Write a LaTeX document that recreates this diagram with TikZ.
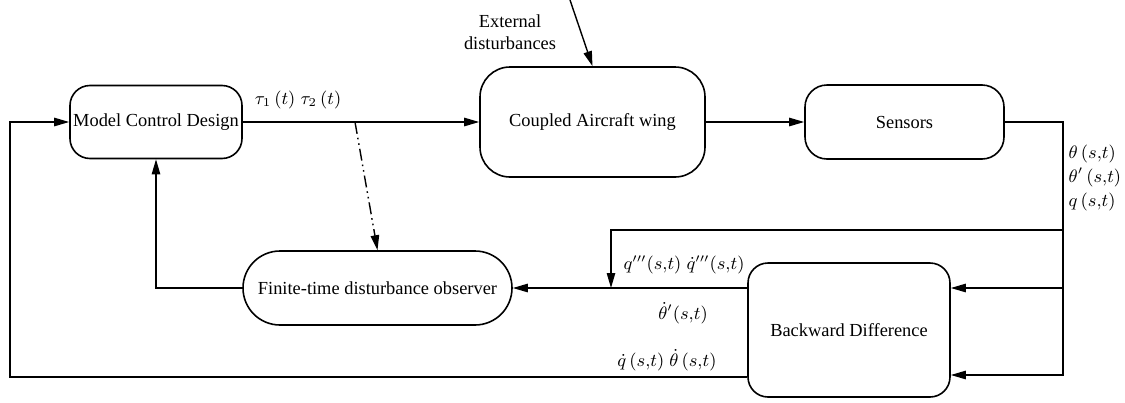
\documentclass[tikz,border=0pt]{standalone}
\usepackage{fontspec}
\setmainfont{Liberation Serif}
\usetikzlibrary{arrows.meta}
\tikzset{
  blk/.style={draw,line width=0.8pt,rounded corners=#1,align=center,inner sep=1pt,font=\fontsize{9.2}{11}\selectfont},
  lbl/.style={font=\fontsize{9.2}{11}\selectfont,align=left,inner sep=0pt},
  dashdotdot/.style={dash pattern=on 6pt off 2pt on 0.8pt off 2pt on 0.8pt off 2pt}
}
\begin{document}
\begin{tikzpicture}[x=0.5pt,y=-0.5pt,>={Triangle[length=7.5pt,width=4.2pt]},line width=0.7pt]
\useasboundingbox (0,0) rectangle (1125,402);
\node[blk=10pt,minimum width=86pt,minimum height=36.5pt] (mcd) at (156,122) {Model Control Design};
\node[blk=15pt,minimum width=112.5pt,minimum height=55pt] (wing) at (592.5,122) {Coupled Aircraft wing};
\node[blk=11pt,minimum width=99.5pt,minimum height=37pt] (sens) at (904.5,122) {Sensors};
\node[blk=18.5pt,minimum width=134.5pt,minimum height=37pt] (obs) at (377.5,288) {Finite-time disturbance observer};
\node[blk=10pt,minimum width=101pt,minimum height=67pt] (bd) at (849,330) {Backward Difference};
\coordinate (ext) at (570,0);
\coordinate (rt) at (1063,122);
\coordinate (tap) at (1063,230);
\coordinate (r2) at (1063,288);
\coordinate (r3) at (1063,375);
\coordinate (jn) at (611,288);
\coordinate (lb) at (10,377);
\coordinate (tp) at (355,122);
\draw[->] (mcd) -- (wing);
\draw[->] (wing) -- (sens);
\draw[->] (ext) -- (wing.north);
\draw[->] (sens.east) -- (rt) -- (r3) -- (bd.east |- r3);
\draw[->] (r2) -- (bd.east |- r2);
\draw[->] (tap) -- (jn |- tap) -- (jn);
\draw[->] (bd.west |- jn) -- (obs.east);
\draw[->] (obs.west) -- (mcd |- obs.west) -- (mcd.south);
\draw[->] (bd.west |- lb) -- (lb) -- (lb |- mcd) -- (mcd.west);
\draw[->,dashdotdot] (tp) -- (obs.north);
\node[lbl,align=center] (extl) at (510,32) {External\\disturbances};
\node[lbl] (tau) at (298,100) {$\tau_1\,(t)\;\tau_2\,(t)$};
\node[lbl,anchor=west] (meas) at (1068,178) {$\theta\,(s{,}t)$\\[1pt]$\theta'\,(s{,}t)$\\[1pt]$q\,(s{,}t)$};
\node[lbl] (qd3) at (684,265) {$q'''(s{,}t)\;\dot q'''(s{,}t)$};
\node[lbl] (thd) at (683,313) {$\dot\theta'(s{,}t)$};
\node[lbl] (qd) at (667,360) {$\dot q\,(s{,}t)\;\dot\theta\,(s{,}t)$};
\end{tikzpicture}
\end{document}
